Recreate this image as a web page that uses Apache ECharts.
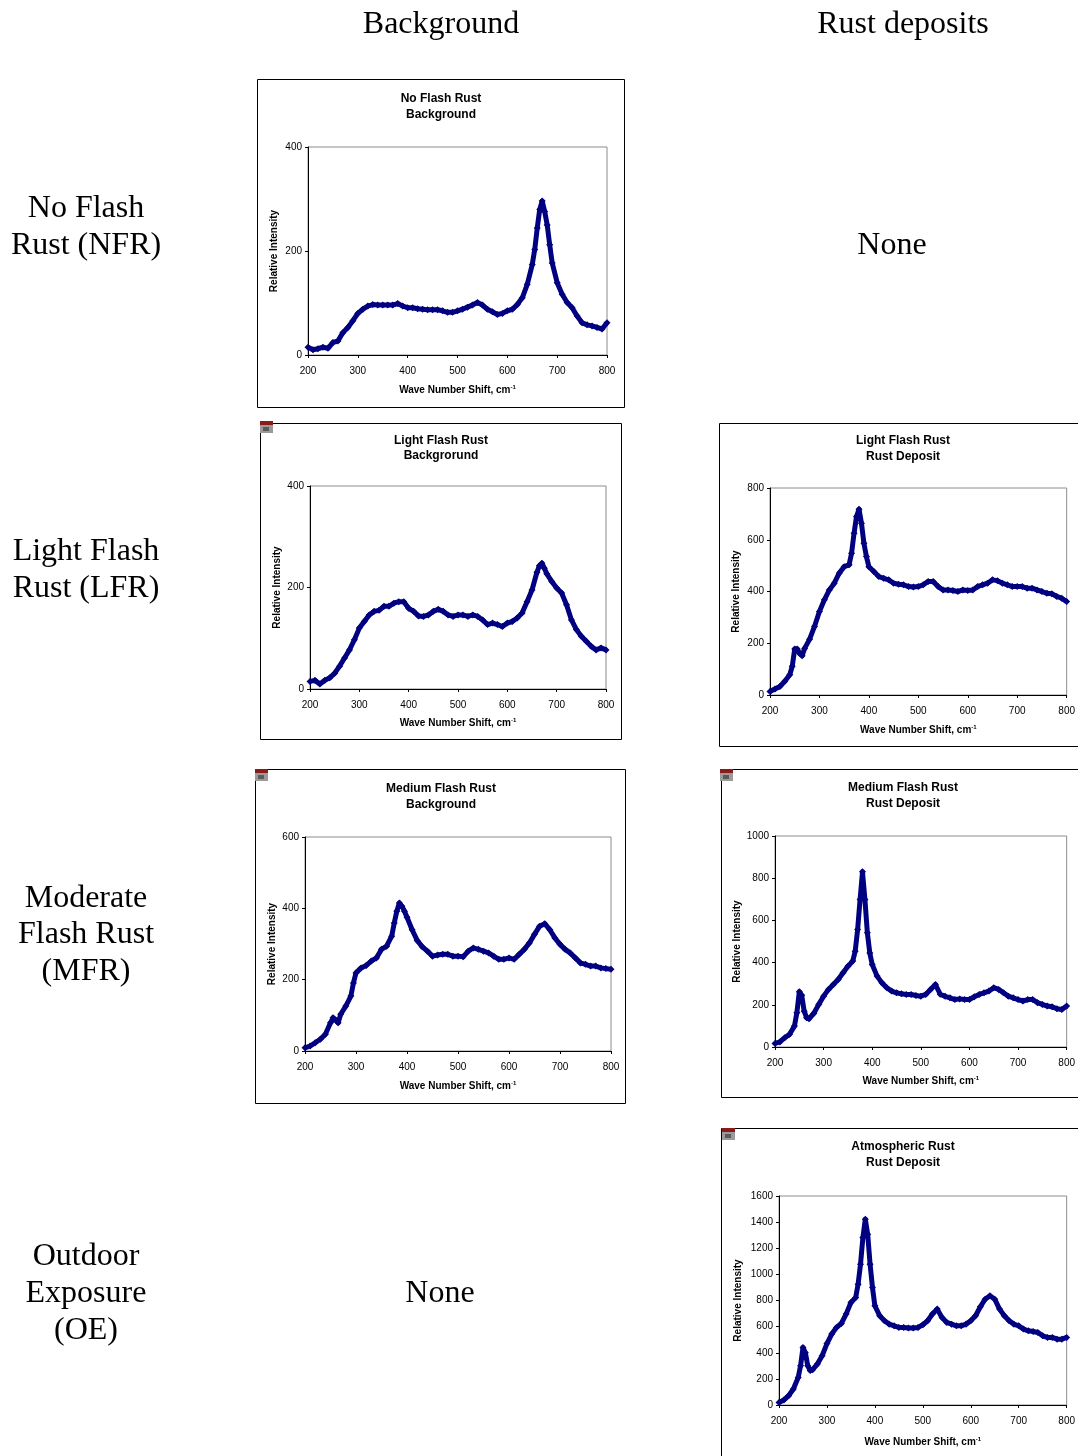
<!DOCTYPE html>
<html><head><meta charset="utf-8">
<script src="https://cdn.jsdelivr.net/npm/echarts/dist/echarts.min.js"></script>
<style>html,body{margin:0;padding:0;background:#fff;}#c{width:1078px;height:1456px;}</style>
</head><body><div id="c"></div>
<script>
// ---------- DATA ----------
const COLUMN_HEADERS = ['Background', 'Rust deposits'];
const ROW_LABELS = [['No Flash','Rust (NFR)'], ['Light Flash','Rust (LFR)'], ['Moderate','Flash Rust','(MFR)'], ['Outdoor','Exposure','(OE)']];
const NONE_TEXT = 'None';
const CHART_TITLES = [['No Flash Rust','Background'], ['Light Flash Rust','Backgrorund'], ['Light Flash Rust','Rust Deposit'],
  ['Medium Flash Rust','Background'], ['Medium Flash Rust','Rust Deposit'], ['Atmospheric Rust','Rust Deposit']];
const X_NAME = 'Wave Number Shift, cm';
const X_NAME_SUP = '-1';
const Y_NAME = 'Relative Intensity';
const X_MIN = 200, X_MAX = 800, X_STEP = 100;
const Y_MAX = [400, 400, 800, 600, 1000, 1600];
const Y_STEP = 200;

const NFR_BG_X = [200,210,220,230,240,250,260,270,280,290,300,310,320,330,340,350,360,370,380,390,400,410,420,430,440,450,460,470,480,490,500,510,520,530,540,550,560,570,580,590,600,610,620,630,640,650,655,660,665,670,675,680,685,690,700,710,720,730,740,750,760,770,780,790,800];
const NFR_BG_Y = [15,10,12,15,13,24,27,43,53,66,80,88,94,97,96,96,96,96,99,94,91,91,89,88,87,87,87,85,82,82,85,88,92,96,101,96,88,83,78,80,85,88,97,110,136,174,203,244,280,296,276,250,212,177,139,117,101,91,75,62,58,56,53,50,62];

const LFR_BG_X = [200,210,220,230,240,250,260,270,280,290,300,310,320,330,340,350,360,370,380,390,400,410,420,430,440,450,460,470,480,490,500,510,520,530,540,550,560,570,580,590,600,610,620,630,640,650,660,665,670,675,680,690,700,710,720,730,740,750,760,770,780,790,800];
const LFR_BG_Y = [15,17,10,17,22,31,45,61,77,97,120,133,146,153,155,163,163,169,172,172,159,153,144,143,146,153,157,153,146,143,146,146,143,146,143,136,127,130,127,123,130,133,140,150,172,195,230,243,248,238,227,212,199,189,166,136,117,104,94,84,77,81,77];

const LFR_DEP_X = [200,210,220,230,240,245,250,255,260,265,270,280,290,300,310,320,330,340,350,360,365,370,375,380,385,390,395,400,410,420,430,440,450,460,470,480,490,500,510,520,530,540,550,560,570,580,590,600,610,620,630,640,650,660,670,680,690,700,710,720,730,740,750,760,770,780,790,800];
const LFR_DEP_Y = [14,23,33,53,78,111,178,178,160,152,180,215,265,323,368,406,432,471,496,503,548,625,690,718,664,586,535,496,477,458,451,445,432,428,426,419,417,419,426,439,439,419,406,406,404,400,406,404,406,419,426,432,445,442,432,426,419,419,419,413,413,406,400,393,391,381,374,361];

const MFR_BG_X = [200,210,220,230,240,250,255,260,265,270,280,290,295,300,310,320,330,340,350,360,370,375,380,385,390,395,400,410,420,430,440,450,460,470,480,490,500,510,520,530,540,550,560,570,580,590,600,610,620,630,640,650,660,670,680,690,700,710,720,730,740,750,760,770,780,790,800];
const MFR_BG_Y = [9,14,23,33,47,79,93,87,79,103,126,154,191,219,233,240,252,261,285,294,322,359,392,415,406,392,375,340,310,292,280,266,269,271,271,266,266,264,280,289,285,280,275,266,257,257,261,257,271,285,303,327,350,357,340,317,299,285,275,261,247,243,238,238,233,231,229];

const MFR_DEP_X = [200,210,220,230,240,245,250,255,260,265,270,280,290,300,310,320,330,340,350,360,365,370,375,380,385,390,395,400,410,420,430,440,450,460,470,480,490,500,510,520,530,540,550,560,570,580,590,600,610,620,630,640,650,660,670,680,690,700,710,720,730,740,750,760,770,780,790,800];
const MFR_DEP_Y = [17,24,44,60,99,162,262,245,170,139,134,160,202,241,273,296,320,352,383,407,454,557,699,830,699,541,446,391,336,304,281,265,257,252,249,249,244,241,249,273,296,250,240,233,225,228,225,225,238,249,257,265,281,273,257,241,233,225,218,225,225,210,202,194,191,181,178,194];

const OE_DEP_X = [200,210,220,230,240,245,250,255,260,265,270,280,290,300,310,320,330,340,350,360,365,370,375,380,385,390,395,400,410,420,430,440,450,460,470,480,490,500,510,520,530,540,550,560,570,580,590,600,610,620,630,640,650,660,670,680,690,700,710,720,730,740,750,760,770,780,790,800];
const OE_DEP_Y = [20,38,71,122,211,300,440,400,300,265,270,313,377,470,543,594,624,696,785,823,925,1078,1282,1422,1307,1078,899,759,683,645,619,606,594,594,589,589,594,614,645,696,734,670,632,619,606,606,619,645,683,752,810,836,810,734,683,645,619,606,581,568,563,555,530,517,517,504,504,517];

const SERIES_X = [NFR_BG_X, LFR_BG_X, LFR_DEP_X, MFR_BG_X, MFR_DEP_X, OE_DEP_X];
const SERIES_Y = [NFR_BG_Y, LFR_BG_Y, LFR_DEP_Y, MFR_BG_Y, MFR_DEP_Y, OE_DEP_Y];

// ---------- LAYOUT ----------
const GRIDS = [
  {left:308, top:147, width:299, height:208},
  {left:310, top:486, width:296, height:203},
  {left:770, top:488, width:300, height:207},
  {left:305, top:837, width:306, height:214},
  {left:775, top:836, width:293, height:211},
  {left:779, top:1196, width:288, height:209}
];
const Y_NAME_GAP = [29, 28, 29, 28, 33, 36];
const X_NAME_GAP = [29, 28, 29, 29, 28, 31];
const TITLE_POS = [[441,99,115],[441,441,456],[903,441,457],[441,789,805],[903,788,804],[903,1147,1163]];
const BOXES = [[257,79,367,328],[260,423,361,316],[719,423,400,323],[255,769,370,334],[721,769,400,328],[721,1128,400,400]];
const ICONS = [[260,421],[255,769],[720,769],[722,1128]];

const SANS = '"Liberation Sans", Arial, sans-serif';
const SERIF = '"Liberation Serif", "Times New Roman", serif';
const NAVY = '#000080';

const chart = echarts.init(document.getElementById('c'), null, {renderer:'canvas'});

const grid = [], xAxis = [], yAxis = [], series = [], graphic = [];
for (let i = 0; i < 6; i++) {
  grid.push(Object.assign({show:true, borderColor:'#8c8c8c', borderWidth:1, backgroundColor:'transparent'}, GRIDS[i]));
  xAxis.push({
    type:'value', gridIndex:i, min:X_MIN, max:X_MAX, interval:X_STEP,
    name: X_NAME + '{sup|' + X_NAME_SUP + '}', nameLocation:'middle', nameGap:X_NAME_GAP[i],
    nameTextStyle:{fontFamily:SANS, fontWeight:'bold', fontSize:10, color:'#000',
      rich:{sup:{fontFamily:SANS, fontWeight:'bold', fontSize:6, color:'#000', padding:[0,0,7,0]}}},
    axisLine:{show:true, onZero:false, lineStyle:{color:'#000', width:1}},
    axisTick:{show:true, length:3, lineStyle:{color:'#000'}},
    axisLabel:{fontFamily:SANS, fontSize:10, color:'#000', margin:11, formatter:v => String(v)},
    splitLine:{show:false}
  });
  yAxis.push({
    type:'value', gridIndex:i, min:0, max:Y_MAX[i], interval:Y_STEP,
    name: Y_NAME, nameLocation:'middle', nameGap:Y_NAME_GAP[i], nameRotate:90,
    nameTextStyle:{fontFamily:SANS, fontWeight:'bold', fontSize:10, color:'#000'},
    axisLine:{show:true, onZero:false, lineStyle:{color:'#000', width:1}},
    axisTick:{show:true, length:3, lineStyle:{color:'#000'}},
    axisLabel:{fontFamily:SANS, fontSize:10, color:'#000', margin:6, formatter:v => String(v)},
    splitLine:{show:false}
  });
  const xs = SERIES_X[i], ys = SERIES_Y[i];
  series.push({
    type:'line', xAxisIndex:i, yAxisIndex:i,
    data: xs.map((x, k) => [x, ys[k]]),
    symbol:'diamond', symbolSize:7, showSymbol:true,
    lineStyle:{color:NAVY, width:5, join:'round'},
    itemStyle:{color:NAVY},
    animation:false, silent:true
  });
  const [tx, ty1, ty2] = TITLE_POS[i];
  graphic.push({type:'text', x:tx, y:ty1, style:{text:CHART_TITLES[i][0], font:'bold 12px ' + SANS, fill:'#000', textAlign:'center', textVerticalAlign:'middle'}});
  graphic.push({type:'text', x:tx, y:ty2, style:{text:CHART_TITLES[i][1], font:'bold 12px ' + SANS, fill:'#000', textAlign:'center', textVerticalAlign:'middle'}});
  const b = BOXES[i];
  graphic.push({type:'rect', shape:{x:b[0]+0.5, y:b[1]+0.5, width:b[2], height:b[3]}, style:{fill:'none', stroke:'#000', lineWidth:1}});
}
ICONS.forEach(p => {
  graphic.push({type:'rect', shape:{x:p[0], y:p[1], width:13, height:4}, style:{fill:'#8b1a1a'}});
  graphic.push({type:'rect', shape:{x:p[0], y:p[1]+4, width:13, height:8}, style:{fill:'#9a9a9a'}});
  graphic.push({type:'rect', shape:{x:p[0]+3, y:p[1]+6, width:6, height:4}, style:{fill:'#5a5a5a'}});
});

function bigText(txt, x, y) {
  graphic.push({type:'text', x:x, y:y + 3, style:{text:txt, font:'32px ' + SERIF, fill:'#000', textAlign:'center', textVerticalAlign:'middle'}});
}
bigText(COLUMN_HEADERS[0], 441, 22);
bigText(COLUMN_HEADERS[1], 903, 22);
const ROW_Y = [[206,243],[549,586],[896,932,969],[1254,1291,1328]];
ROW_LABELS.forEach((lines, r) => lines.forEach((t, k) => bigText(t, 86, ROW_Y[r][k])));
bigText(NONE_TEXT, 892, 243);
bigText(NONE_TEXT, 440, 1291);

chart.setOption({
  animation:false,
  backgroundColor:'#fff',
  grid, xAxis, yAxis, series, graphic
});
</script>
</body></html>
